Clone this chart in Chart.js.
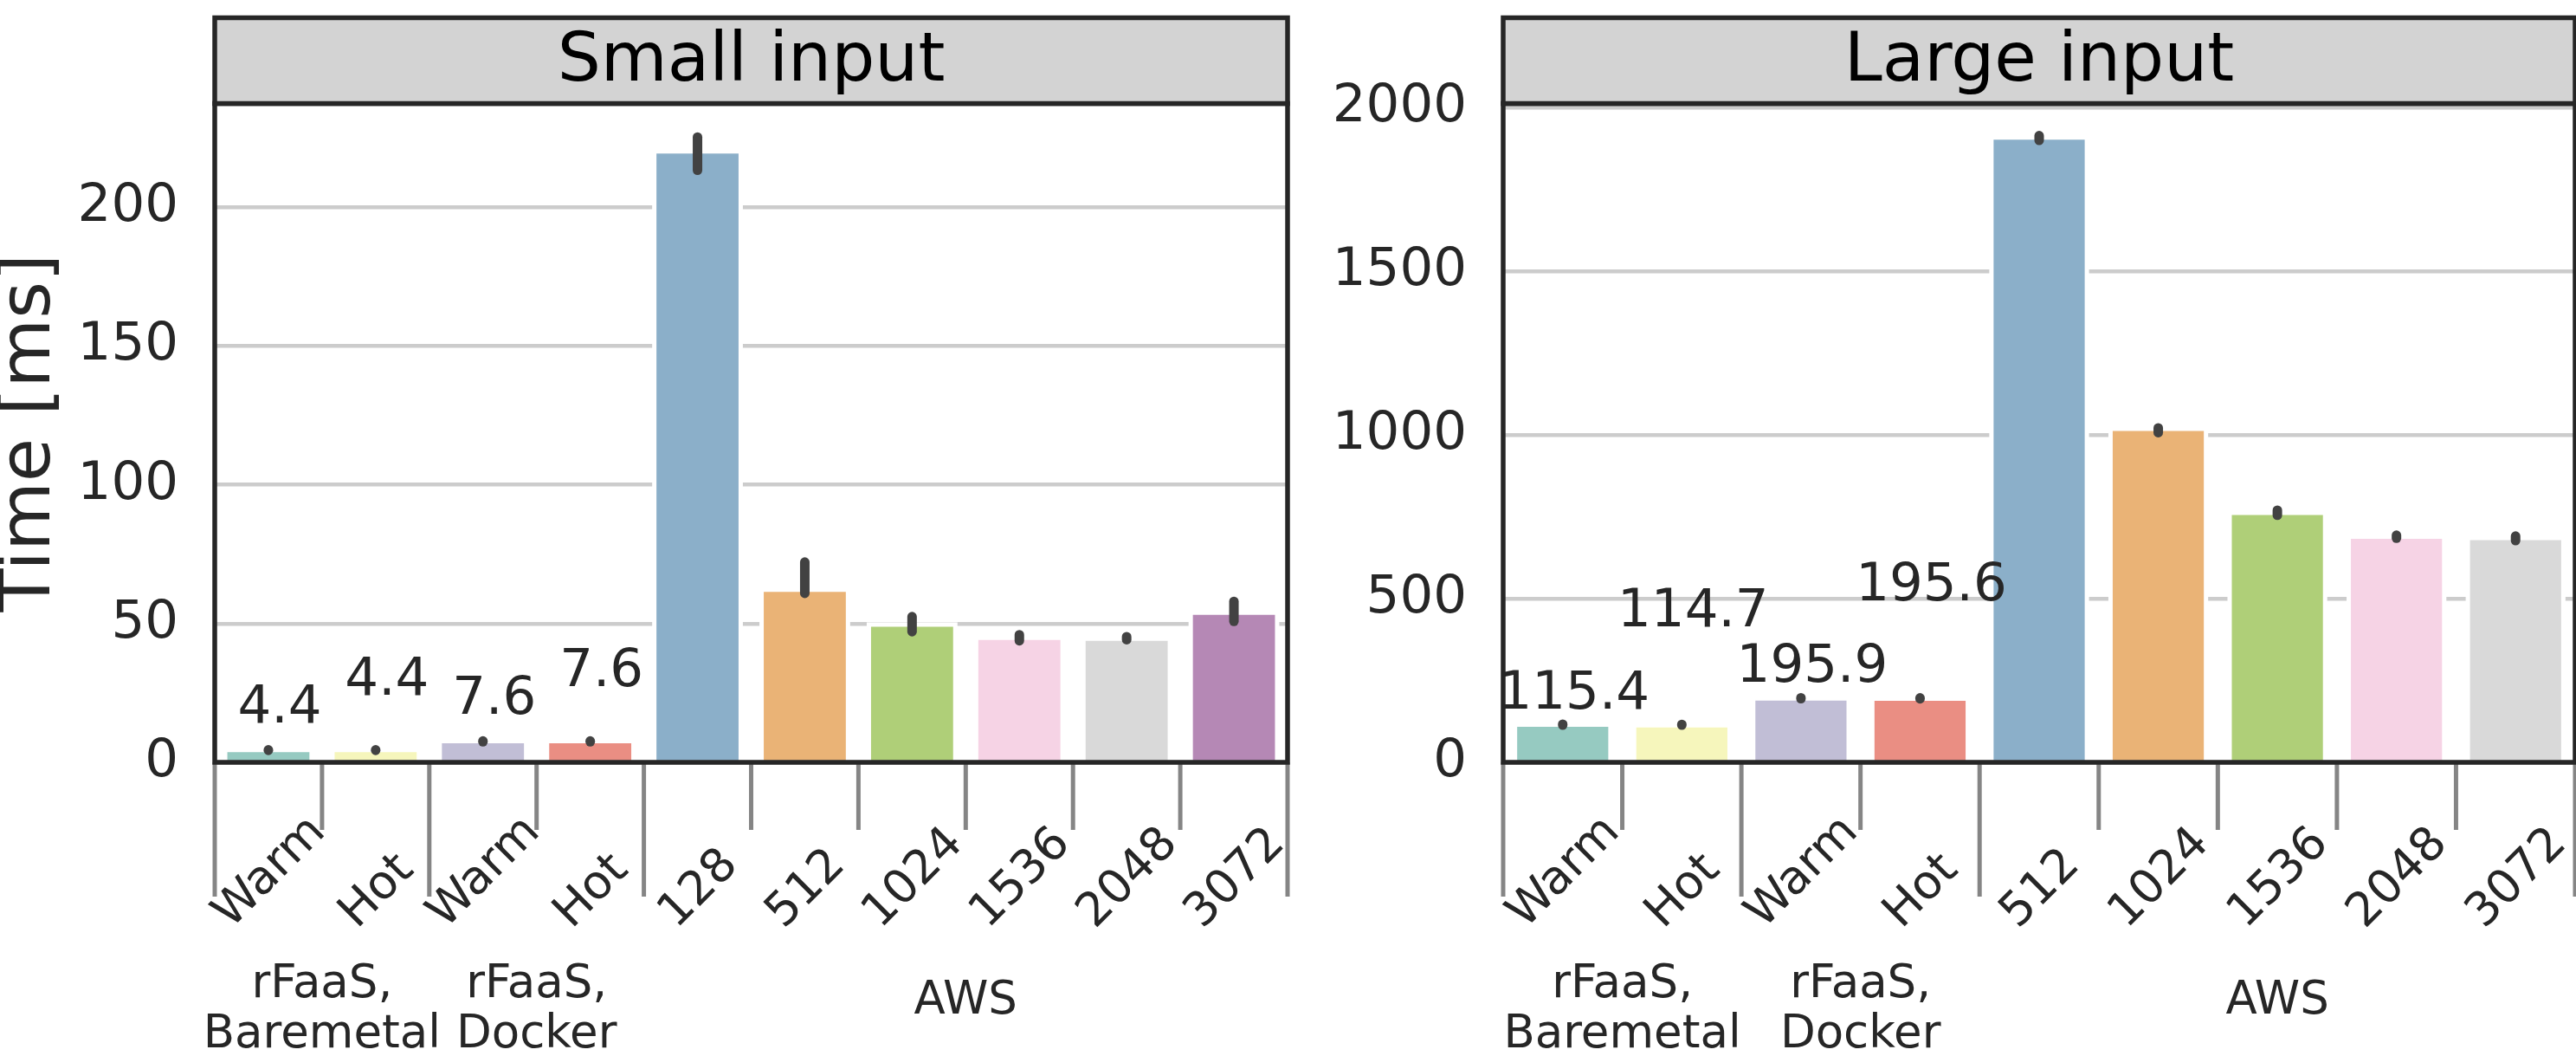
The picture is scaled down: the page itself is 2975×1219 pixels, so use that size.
<!DOCTYPE html>
<html><head><meta charset="utf-8">
<script src="https://cdn.jsdelivr.net/npm/chart.js@4.4.1/dist/chart.umd.min.js"></script>
<style>
html,body{margin:0;padding:0;background:#ffffff;overflow:hidden;}
#wrap{position:relative;width:2975px;height:1219px;background:#ffffff;}
canvas{position:absolute;top:0;}
</style></head><body>
<div id="wrap">
<canvas id="small" width="1500" height="1219" style="left:0px;width:1500px;height:1219px"></canvas>
<canvas id="large" width="1475" height="1219" style="left:1500px;width:1475px;height:1219px"></canvas>
</div>
<script>
// ---------- data ----------
const smallCategories = ["Warm", "Hot", "Warm", "Hot", "128", "512", "1024", "1536", "2048", "3072"];
const smallTimes   = [3.7, 3.7, 6.9, 6.9, 219.4, 61.4, 48.9, 44.1, 43.8, 53.2];
const smallErrLow  = [4.3, 4.3, 7.4, 7.4, 213.4, 60.9, 47.1, 43.8, 44.2, 50.8];
const smallErrHigh = [4.5, 4.5, 7.7, 7.7, 225.4, 72.2, 52.5, 46.0, 45.3, 58.0];
const smallLabels  = [4.4, 4.4, 7.6, 7.6];
const smallGroupSizes = [2, 2, 6];
const smallYTicks = [0, 50, 100, 150, 200];

const largeCategories = ["Warm", "Hot", "Warm", "Hot", "512", "1024", "1536", "2048", "3072"];
const largeTimes   = [108.5, 106.7, 188.5, 188.0, 1903, 1012.6, 756, 683, 679];
const largeErrLow  = [113.5, 113.5, 194.5, 194.0, 1900.5, 1007.5, 755, 685, 677.5];
const largeErrHigh = [116.5, 116.0, 197.5, 197.0, 1915, 1022, 770.5, 694, 691.5];
const largeLabels  = [115.4, 114.7, 195.9, 195.6];
const largeGroupSizes = [2, 2, 5];
const largeYTicks = [0, 500, 1000, 1500, 2000];

const groupNames = [["rFaaS,", "Baremetal"], ["rFaaS,", "Docker"], ["AWS"]];
const panelTitles = ["Small input", "Large input"];
const yAxisTitle = "Time [ms]";

// ---------- style ----------
const palette = ["#96cac1", "#f6f6bc", "#c1bed6", "#ea8e83", "#8bafc9", "#eab376", "#afcf78", "#f6d3e5", "#d9d9d9", "#b588b5"];
const FONT = "'DejaVu Sans', sans-serif";
const DARK = "#262626";
Chart.defaults.font.family = FONT;

const panelPlugin = {
  id: 'panel',
  beforeDatasetsDraw(chart, args, o) {
    const ctx = chart.ctx;
    const meta = chart.getDatasetMeta(0);
    ctx.save();
    ctx.fillStyle = '#ffffff';
    meta.data.forEach(bar => {
      const p = bar.getProps(['x', 'y', 'base', 'width'], true);
      const h = 5;
      ctx.fillRect(p.x - p.width / 2 - h, p.y - h, p.width + 2 * h, p.base - p.y + h);
    });
    ctx.restore();
  },
  afterDatasetsDraw(chart, args, o) {
    const ctx = chart.ctx, xs = chart.scales.x, ys = chart.scales.y;
    ctx.save();
    ctx.strokeStyle = '#424242';
    ctx.lineWidth = 11;
    ctx.lineCap = 'round';
    o.errLow.forEach((lo, i) => {
      const px = xs.getPixelForValue(i);
      ctx.beginPath();
      ctx.moveTo(px, ys.getPixelForValue(lo));
      ctx.lineTo(px, ys.getPixelForValue(o.errHigh[i]));
      ctx.stroke();
    });
    ctx.fillStyle = DARK;
    ctx.font = `61px ${FONT}`;
    ctx.textAlign = 'center';
    ctx.textBaseline = 'alphabetic';
    o.labels.forEach((v, i) => {
      const off = o.labelOffsets[i % 2];
      ctx.fillText(v.toFixed(1), xs.getPixelForValue(i) + 13, ys.getPixelForValue(v + off));
    });
    ctx.restore();
  },
  afterDraw(chart, args, o) {
    const ctx = chart.ctx, a = chart.chartArea, xs = chart.scales.x;
    const n = chart.data.labels.length;
    ctx.save();
    // category boundary ticks
    const bounds = new Set([0]);
    let acc = 0;
    o.groupSizes.forEach(s => { acc += s; bounds.add(acc); });
    ctx.strokeStyle = '#858585';
    ctx.lineWidth = 5;
    ctx.lineCap = 'butt';
    for (let k = 0; k <= n; k++) {
      const bx = xs.getPixelForValue(k - 0.5);
      const len = bounds.has(k) ? 155 : 78;
      ctx.beginPath();
      ctx.moveTo(bx, a.bottom);
      ctx.lineTo(bx, a.bottom + len);
      ctx.stroke();
    }
    // rotated tick labels
    ctx.fillStyle = DARK;
    ctx.font = `54px ${FONT}`;
    ctx.textAlign = 'center';
    ctx.textBaseline = 'alphabetic';
    chart.data.labels.forEach((lab, i) => {
      const L = ctx.measureText(lab).width;
      const cx = xs.getPixelForValue(i) + 12;
      const cy = a.bottom + 193 - L / (2 * Math.SQRT2);
      ctx.save();
      ctx.translate(cx, cy);
      ctx.rotate(-Math.PI / 4);
      ctx.fillText(lab, 0, 0);
      ctx.restore();
    });
    // group labels
    ctx.font = `53px ${FONT}`;
    let start = 0;
    o.groupSizes.forEach((s, g) => {
      const c = (xs.getPixelForValue(start - 0.5) + xs.getPixelForValue(start + s - 0.5)) / 2;
      const lines = groupNames[g];
      if (lines.length === 2) {
        ctx.fillText(lines[0], c, a.bottom + 271);
        ctx.fillText(lines[1], c, a.bottom + 329);
      } else {
        ctx.fillText(lines[0], c, a.bottom + 290);
      }
      start += s;
    });
    // frame
    ctx.strokeStyle = DARK;
    ctx.lineWidth = 5.5;
    ctx.lineCap = 'square';
    ctx.strokeRect(a.left, a.top, a.right - a.left, a.bottom - a.top);
    // header box
    const hTop = a.top - 99;
    ctx.fillStyle = '#d3d3d3';
    ctx.fillRect(a.left, hTop, a.right - a.left, a.top - hTop);
    ctx.strokeRect(a.left, hTop, a.right - a.left, a.top - hTop);
    ctx.fillStyle = '#000000';
    ctx.font = `79px ${FONT}`;
    ctx.textAlign = 'center';
    ctx.fillText(o.title, (a.left + a.right) / 2, a.top - 26.5);
    ctx.restore();
  }
};

function makePanel(id, cfg) {
  const canvas = document.getElementById(id);
  const cw = canvas.width, ch = canvas.height;
  return new Chart(canvas, {
    type: 'bar',
    data: {
      labels: cfg.categories,
      datasets: [{
        data: cfg.values,
        backgroundColor: palette.slice(0, cfg.values.length),
        borderWidth: 0,
        barPercentage: 0.765,
        categoryPercentage: 1.0
      }]
    },
    plugins: [panelPlugin],
    options: {
      responsive: false,
      animation: false,
      devicePixelRatio: 1,
      events: [],
      layout: { padding: { left: 0, right: cw - cfg.area.right, top: cfg.area.top, bottom: ch - cfg.area.bottom } },
      plugins: {
        legend: { display: false },
        tooltip: { enabled: false },
        panel: {
          title: cfg.title,
          errLow: cfg.errLow, errHigh: cfg.errHigh,
          labels: cfg.labels, labelOffsets: cfg.labelOffsets,
          groupSizes: cfg.groupSizes
        }
      },
      scales: {
        x: {
          type: 'category',
          offset: true,
          grid: { display: false },
          border: { display: false },
          ticks: { display: false },
          afterFit: s => { s.height = 0; }
        },
        y: {
          min: 0,
          max: cfg.yMax,
          afterBuildTicks: s => { s.ticks = cfg.yTicks.map(v => ({ value: v })); },
          afterFit: s => { s.width = cfg.area.left; },
          grid: { color: '#cccccc', lineWidth: 4.5, drawTicks: false },
          border: { display: false },
          ticks: { font: { size: 61 }, color: DARK, padding: 42, callback: v => String(v) },
          title: cfg.yTitle ? {
            display: true, text: cfg.yTitle, color: DARK,
            font: { size: 82, lineHeight: 1 },
            padding: { top: -5, bottom: 0 }
          } : { display: false }
        }
      }
    }
  });
}

makePanel('small', {
  title: panelTitles[0],
  categories: smallCategories, values: smallTimes,
  errLow: smallErrLow, errHigh: smallErrHigh,
  labels: smallLabels, labelOffsets: [10, 20],
  groupSizes: smallGroupSizes, yTicks: smallYTicks,
  yMax: 237.47, yTitle: yAxisTitle,
  area: { left: 248, right: 1487, top: 119.5, bottom: 880 }
});

makePanel('large', {
  title: panelTitles[1],
  categories: largeCategories, values: largeTimes,
  errLow: largeErrLow, errHigh: largeErrHigh,
  labels: largeLabels, labelOffsets: [50, 300],
  groupSizes: largeGroupSizes, yTicks: largeYTicks,
  yMax: 2013.2, yTitle: null,
  area: { left: 236, right: 1474, top: 119.5, bottom: 880 }
});
</script>
</body></html>
